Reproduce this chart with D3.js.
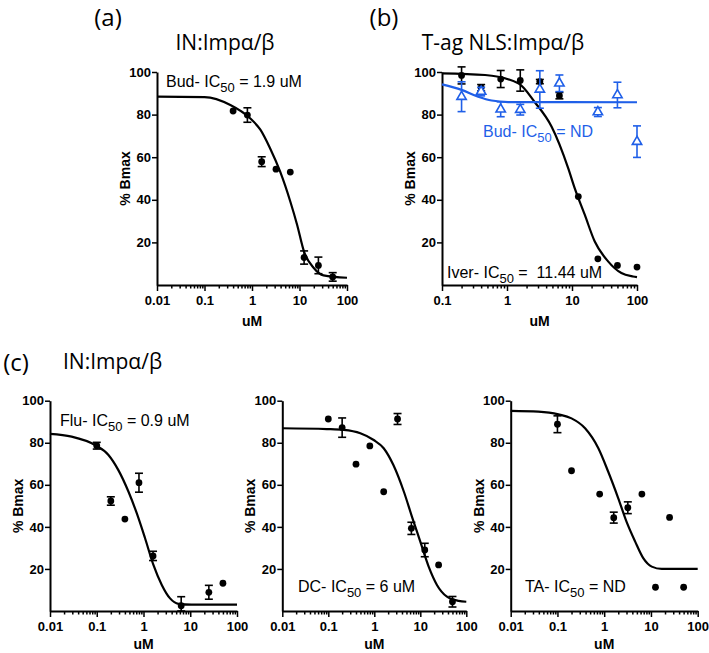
<!DOCTYPE html>
<html>
<head>
<meta charset="utf-8">
<title>IC50 dose-response panels</title>
<script src="https://d3js.org/d3.v7.min.js"></script>
<style>
    body { margin: 0; background: #fff; }
    svg { display: block; }
    .axis .domain { stroke: #000; stroke-width: 2; }
    .axis .tick line { stroke: #000; stroke-width: 1.5; }
    .axis text { font: bold 13px "Liberation Sans", Arial, sans-serif; fill: #000; }
    .atitle { font: bold 14px "Liberation Sans", Arial, sans-serif; }
    .note { font: 16px "Liberation Sans", Arial, sans-serif; white-space: pre; }
    .head { font: 21px "Open Sans", sans-serif; }
    .tag { font: 24px "Open Sans", sans-serif; }
</style>
</head>
<body>
<svg width="709" height="653"></svg>
<script>
// (a) IN:Impa/b - budesonide
const budDoseA = [0.4, 0.8, 1.6, 3.2, 6.4, 12.5, 25, 50];
const budBmaxA = [81.7, 79.8, 57.9, 54.4, 53.0, 12.9, 9.2, 3.8];
const budErrA  = [0, 3.4, 2.3, 0, 0, 3.1, 3.9, 2.0];
const budFitXA = [0.01, 0.1, 0.35, 0.91, 1.5, 2.4, 3.9, 6.4, 8.9, 12.4, 20, 32, 100];
const budFitYA = [88.4, 88.2, 84.5, 78.3, 72.9, 64.2, 53.3, 39.2, 28.3, 15.8, 8.0, 4.5, 3.4];

// (b) T-ag NLS:Impa/b - ivermectin (black) and budesonide (blue)
const iverDoseB = [0.2, 0.4, 0.8, 1.6, 3.2, 6.4, 12.5, 25, 50, 100];
const iverBmaxB = [98.4, 92.6, 96.7, 96.0, 95.5, 88.9, 41.5, 12.3, 9.2, 8.4];
const iverErrB  = [4, 1.5, 4, 5, 1, 1.5, 0, 0, 0, 0];
const iverFitXB = [0.1, 0.46, 1.49, 2.68, 4.84, 8.73, 11.0, 15.7, 22.4, 35.9, 57.5, 87, 100];
const iverFitYB = [99.4, 98.6, 94.7, 85.8, 74.4, 54.9, 45.5, 33.0, 20.4, 11.1, 5.6, 4.0, 3.7];

const budDoseB = [0.2, 0.4, 0.8, 1.6, 3.2, 6.4, 25, 50, 100];
const budBmaxB = [88.4, 90.8, 82.5, 82.3, 91.8, 94.7, 81.2, 89.2, 67.3];
const budErrB  = [7, 2, 3.5, 2.5, 8.8, 3.9, 2.1, 6, 7.4];
const budFitXB = [0.1, 0.2, 0.36, 0.58, 1.04, 100];
const budFitYB = [94.2, 91.6, 88.4, 86.6, 85.9, 85.8];

// (c) IN:Impa/b - flunisolide, dexamethasone, triamcinolone
const fluDose = [0.1, 0.2, 0.4, 0.8, 1.6, 6.4, 25, 50];
const fluBmax = [78.6, 52.3, 43.7, 61.0, 26.2, 2.5, 8.9, 13.2];
const fluErr  = [1.6, 2, 0, 4.5, 2.2, 4.3, 3.3, 0];
const fluFitX = [0.01, 0.029, 0.092, 0.178, 0.29, 0.478, 0.72, 1.08, 1.63, 2.46, 3.7, 5.6, 10.7, 100];
const fluFitY = [84.2, 82.9, 78.9, 74.2, 67.0, 56.7, 46.4, 34.6, 21.9, 12.4, 6.0, 3.4, 3.0, 3.0];

const dcDose = [0.1, 0.2, 0.4, 0.8, 1.6, 3.2, 6.4, 12.5, 25, 50];
const dcBmax = [91.3, 87.2, 69.8, 78.5, 56.7, 91.3, 39.3, 29.0, 21.9, 4.4];
const dcErr  = [0, 4.6, 0, 0, 0, 2.6, 2.9, 3.2, 0, 2.5];
const dcFitX = [0.01, 0.093, 0.216, 0.497, 0.97, 1.6, 2.6, 4.4, 6.6, 10, 15.2, 23, 38, 68, 100];
const dcFitY = [86.9, 86.5, 86.1, 84.5, 81.3, 77.4, 69.4, 56.7, 44.8, 33.0, 21.1, 12.4, 6.8, 4.8, 4.4];

const taDose = [0.1, 0.2, 0.8, 1.6, 3.2, 6.4, 12.5, 25, 50];
const taBmax = [88.8, 66.7, 55.6, 44.4, 49.1, 55.6, 11.3, 44.5, 11.3];
const taErr  = [4, 0, 0, 2.6, 2.8, 0, 0, 0, 0];
const taFitX = [0.01, 0.039, 0.105, 0.2, 0.39, 0.75, 1.22, 2.0, 3.0, 4.6, 6.9, 10.4, 17, 100];
const taFitY = [95.2, 94.8, 93.5, 91.6, 86.9, 77.4, 66.2, 53.6, 42.5, 33.0, 25.0, 21.1, 20.0, 20.0];

const yTicks = [20, 40, 60, 80, 100];
const blue = "#1f5fe8";

const svg = d3.select("svg");

function isMajor(d) {
    const l = Math.log10(d);
    return Math.abs(l - Math.round(l)) < 1e-6;
}

function makePanel(p) {
    const x = d3.scaleLog().domain(p.domain).range([p.left, p.right]);
    const y = d3.scaleLinear().domain([0, 100]).range([p.bottom, p.top]);

    // log ticks: majors at decades, minors at 2..9
    const lo = Math.round(Math.log10(p.domain[0])), hi = Math.round(Math.log10(p.domain[1]));
    const ticks = [];
    for (let e = lo; e < hi; e++)
        for (let k = 1; k < 10; k++) ticks.push(+(k * Math.pow(10, e)).toPrecision(2));
    ticks.push(p.domain[1]);

    const gx = svg.append("g")
        .attr("class", "axis")
        .attr("transform", "translate(0," + p.bottom + ")")
        .call(d3.axisBottom(x).tickValues(ticks).tickSize(6).tickSizeOuter(0).tickPadding(5)
            .tickFormat(d => isMajor(d) ? String(d) : ""));
    gx.selectAll(".tick line").attr("y2", d => isMajor(d) ? 6 : 3.5);

    svg.append("g")
        .attr("class", "axis")
        .attr("transform", "translate(" + p.left + ",0)")
        .call(d3.axisLeft(y).tickValues(yTicks).tickSize(5).tickSizeOuter(0).tickPadding(1));

    // axis titles
    svg.append("text").attr("class", "atitle")
        .attr("x", (p.left + p.right) / 2).attr("y", p.bottom + (p.uMgap || 41))
        .attr("text-anchor", "middle").text("uM");
    svg.append("text").attr("class", "atitle")
        .attr("transform", "translate(" + (p.left - 27) + "," + ((p.top + p.bottom) / 2) + ") rotate(-90)")
        .attr("text-anchor", "middle").text("% Bmax");

    return { x, y };
}

function drawFit(s, fx, fy, color) {
    const pts = fx.map((v, i) => [s.x(v), s.y(fy[i])]);
    svg.append("path")
        .attr("d", d3.line().curve(d3.curveMonotoneX)(pts))
        .attr("fill", "none").attr("stroke", color).attr("stroke-width", 2.2);
}

function drawPoints(s, dose, val, err, color, shape) {
    const g = svg.append("g").attr("stroke", color).attr("stroke-width", 1.6);
    dose.forEach((d, i) => {
        if (err[i] > 0) {
            const cx = s.x(d), y1 = s.y(val[i] + err[i]), y2 = s.y(Math.max(0, val[i] - err[i]));
            g.append("line").attr("x1", cx).attr("x2", cx).attr("y1", y1).attr("y2", y2);
            g.append("line").attr("x1", cx - 4).attr("x2", cx + 4).attr("y1", y1).attr("y2", y1);
            g.append("line").attr("x1", cx - 4).attr("x2", cx + 4).attr("y1", y2).attr("y2", y2);
        }
    });
    if (shape === "triangle") {
        g.selectAll("path.m").data(dose).join("path")
            .attr("transform", (d, i) => "translate(" + s.x(d) + "," + s.y(val[i]) + ")")
            .attr("d", d3.symbol(d3.symbolTriangle, 38))
            .attr("fill", "#fff");
    } else {
        g.selectAll("circle").data(dose).join("circle")
            .attr("cx", d => s.x(d)).attr("cy", (d, i) => s.y(val[i]))
            .attr("r", 3.4).attr("fill", color).attr("stroke", "none");
    }
}

function note(x, y, pre, sub, post, color) {
    const t = svg.append("text").attr("class", "note").attr("x", x).attr("y", y).attr("fill", color || "#000");
    t.append("tspan").text(pre);
    t.append("tspan").attr("dy", 5).attr("font-size", 13).text(sub);
    t.append("tspan").attr("dy", -5).text(post);
}

function head(x, y, txt, cls, anchor) {
    svg.append("text").attr("class", cls).attr("x", x).attr("y", y)
        .attr("text-anchor", anchor || "middle").text(txt);
}

// panel (a)
const pa = makePanel({ left: 157, right: 347, top: 72, bottom: 285, domain: [0.01, 100] });
drawFit(pa, budFitXA, budFitYA, "#000");
drawPoints(pa, budDoseA, budBmaxA, budErrA, "#000", "circle");
note(166, 87, "Bud- IC", "50", " = 1.9 uM");
head(108, 26, "(a)", "tag");
head(225, 50, "IN:Impα/β", "head");

// panel (b)
const pb = makePanel({ left: 442, right: 637, top: 72, bottom: 285, domain: [0.1, 100] });
drawFit(pb, iverFitXB, iverFitYB, "#000");
drawPoints(pb, iverDoseB, iverBmaxB, iverErrB, "#000", "circle");
drawFit(pb, budFitXB, budFitYB, blue);
drawPoints(pb, budDoseB, budBmaxB, budErrB, blue, "triangle");
note(483, 137, "Bud- IC", "50", " = ND", blue);
note(447, 278, "Iver- IC", "50", " =  11.44 uM");
head(384, 26, "(b)", "tag");
head(503, 50, "T-ag NLS:Impα/β", "head");

// panel (c)
head(16, 371, "(c)", "tag");
head(63, 369, "IN:Impα/β", "head", "start");

const pc1 = makePanel({ left: 50, right: 237, top: 400.7, bottom: 611, domain: [0.01, 100], uMgap: 38 });
drawFit(pc1, fluFitX, fluFitY, "#000");
drawPoints(pc1, fluDose, fluBmax, fluErr, "#000", "circle");
note(60, 426, "Flu- IC", "50", " = 0.9 uM");

const pc2 = makePanel({ left: 282.3, right: 466.3, top: 400.7, bottom: 611, domain: [0.01, 100], uMgap: 38 });
drawFit(pc2, dcFitX, dcFitY, "#000");
drawPoints(pc2, dcDose, dcBmax, dcErr, "#000", "circle");
note(298, 592, "DC- IC", "50", " = 6 uM");

const pc3 = makePanel({ left: 510.7, right: 697.7, top: 400.7, bottom: 611, domain: [0.01, 100], uMgap: 38 });
drawFit(pc3, taFitX, taFitY, "#000");
drawPoints(pc3, taDose, taBmax, taErr, "#000", "circle");
note(525, 592, "TA- IC", "50", " = ND");
</script>
</body>
</html>
